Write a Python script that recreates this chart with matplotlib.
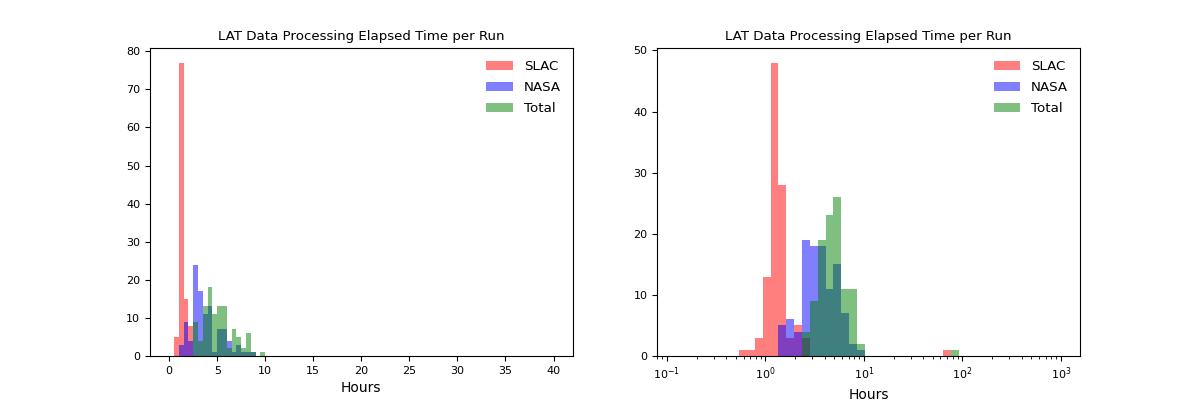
import numpy as np
import matplotlib
matplotlib.use("Agg")
import matplotlib.pyplot as plt

# counts per 0.5 h bin, from 0 to 10 h (everything above is empty)
slac_lin = [0, 5, 77, 15, 8, 0, 0, 0, 0, 0, 0, 0, 0, 0, 0, 0, 0, 0, 0, 0]
nasa_lin = [0, 0, 3, 9, 4, 24, 17, 11, 13, 1, 7, 7, 4, 1, 3, 1, 1, 1, 0, 0]
total_lin = [0, 0, 0, 0, 0, 9, 4, 13, 18, 11, 13, 13, 2, 7, 5, 2, 6, 1, 0, 1]

# counts per log bin (49 bins from 1/8 h to 1000 h), given as {bin index: count}
slac_log = {8: 1, 9: 1, 10: 3, 11: 13, 12: 48, 13: 28, 14: 3, 15: 5, 16: 3, 34: 1}
nasa_log = {13: 5, 14: 6, 15: 4, 16: 19, 17: 18, 18: 18, 19: 11, 20: 15, 21: 7, 22: 2, 23: 1}
total_log = {16: 4, 17: 9, 18: 19, 19: 23, 20: 26, 21: 11, 22: 11, 23: 2, 35: 1}

names = ["SLAC", "NASA", "Total"]
colors = ["r", "b", "g"]
title = "LAT Data Processing Elapsed Time per Run"

lin_bins = np.arange(0, 40.5, 0.5)
log_bins = np.logspace(np.log10(0.125), 3, 50)

fig, (ax1, ax2) = plt.subplots(1, 2, figsize=(12, 4), dpi=100)

# linear histogram
lin_centers = (lin_bins[:-1] + lin_bins[1:]) / 2
for counts, name, c in zip([slac_lin, nasa_lin, total_lin], names, colors):
    w = np.zeros(len(lin_centers))
    w[:len(counts)] = counts
    ax1.hist(lin_centers, bins=lin_bins, weights=w, color=c, alpha=0.5, label=name)

# log histogram
log_centers = np.sqrt(log_bins[:-1] * log_bins[1:])
for counts, name, c in zip([slac_log, nasa_log, total_log], names, colors):
    w = np.zeros(len(log_centers))
    for k, v in counts.items():
        w[k] = v
    ax2.hist(log_centers, bins=log_bins, weights=w, color=c, alpha=0.5, label=name)
ax2.set_xscale("log")

for ax in (ax1, ax2):
    ax.set_title(title, fontsize=9.6)
    ax.set_xlabel("Hours", fontsize=10)
    ax.tick_params(labelsize=8)
    ax.legend(loc="upper right", frameon=False, fontsize=9.6, labelspacing=0.6)

plt.savefig("out.png")
